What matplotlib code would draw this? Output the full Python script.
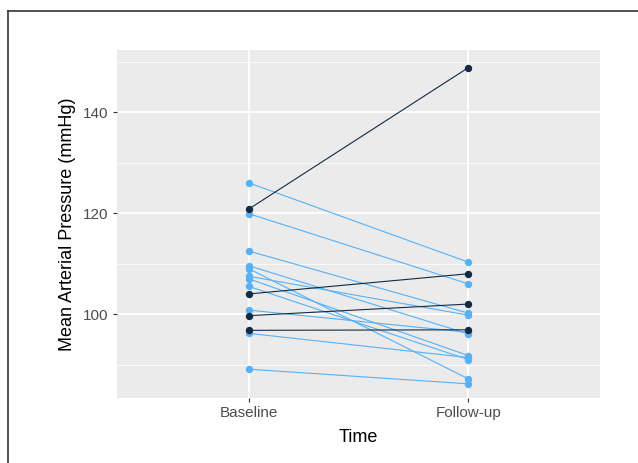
import matplotlib.pyplot as plt
from matplotlib.lines import Line2D
import numpy as np

plt.rcParams['font.family'] = ['Liberation Sans', 'DejaVu Sans']

times = ["Baseline", "Follow-up"]

# light blue subjects
light_base = [126.0, 119.9, 112.5, 109.6, 109.0, 107.5, 107.0, 105.5, 100.8, 96.2, 89.1]
light_follow = [110.3, 106.0, 100.2, 96.1, 87.2, 99.8, 91.8, 91.0, 96.4, 91.4, 86.2]

# dark subjects
dark_base = [120.8, 104.0, 99.7, 96.8]
dark_follow = [148.8, 108.0, 102.0, 96.9]

light_col = '#56B1F7'
dark_col = '#132B43'

fig = plt.figure(figsize=(6.38, 4.63), dpi=100)
ax = fig.add_axes([117/638, 65/463, 483/638, 348/463])
ax.set_facecolor('#EBEBEB')

x = np.arange(1, len(times) + 1)
for b, f in zip(light_base, light_follow):
    ax.plot(x, [b, f], color=light_col, lw=0.8, marker='o', ms=4.3, zorder=3)
for b, f in zip(dark_base, dark_follow):
    ax.plot(x, [b, f], color=dark_col, lw=0.8, marker='o', ms=4.3, zorder=4)

ax.set_xlim(0.4, 2.6)
ax.set_ylim(83.4, 152.3)
ax.set_xticks(x)
ax.set_xticklabels(times)
ax.set_yticks([100, 120, 140])
ax.set_yticks([90, 110, 130, 150], minor=True)

ax.grid(True, which='major', color='white', lw=1.3, zorder=0)
ax.grid(True, which='minor', axis='y', color='white', lw=0.6, zorder=0)
ax.set_axisbelow(True)
for s in ax.spines.values():
    s.set_visible(False)

ax.tick_params(which='major', length=3, width=0.8, color='#333333', labelcolor='#4D4D4D',
               labelsize=11, pad=3)
ax.tick_params(which='minor', length=0)

ax.set_xlabel("Time", fontsize=13, color='black', labelpad=6)
ax.set_ylabel("Mean Arterial Pressure (mmHg)", fontsize=13, color='black', labelpad=5)

# frame around the figure
fig.add_artist(Line2D([8/638, 8/638], [0, 1 - 11/463], transform=fig.transFigure, color='#333333', lw=1.2))
fig.add_artist(Line2D([8/638, 1], [1 - 11/463, 1 - 11/463], transform=fig.transFigure, color='#333333', lw=1.2))

fig.savefig('out.png', dpi=100)
